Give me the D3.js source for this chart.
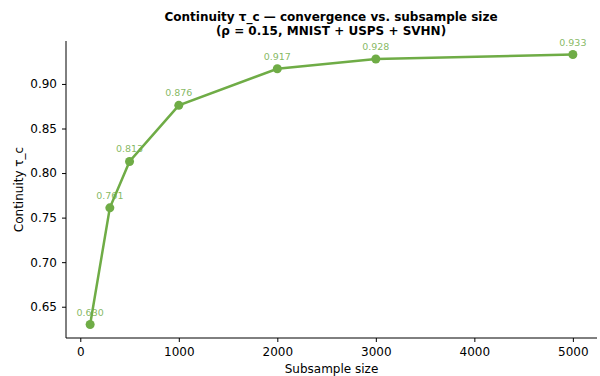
<!DOCTYPE html>
<html>
<head>
<meta charset="utf-8">
<script src="https://cdn.jsdelivr.net/npm/d3@7"></script>
<style>
  body { margin: 0; background: #fff; }
  svg text { font-family: "DejaVu Sans", sans-serif; }
</style>
</head>
<body>
<svg id="chart" width="600" height="376"></svg>
<script>
// ── Data ──────────────────────────────────
const sizes  = [100, 300, 500, 1000, 2000, 3000, 5000];
const tauC   = [0.630, 0.761, 0.813, 0.876, 0.917, 0.928, 0.933];
const xTicks = [0, 1000, 2000, 3000, 4000, 5000];
const yTicks = [0.65, 0.70, 0.75, 0.80, 0.85, 0.90];

const GREEN = '#6fac46';
const svg = d3.select('#chart');
const m = { left: 66, right: 597, top: 41, bottom: 338 };

const x = d3.scaleLinear().domain([-145, 5245]).range([m.left, m.right]);
const y = d3.scaleLinear().domain([0.6149, 0.9482]).range([m.bottom, m.top]);

// axes
const gx = svg.append('g').attr('transform', `translate(0,${m.bottom})`)
  .call(d3.axisBottom(x).tickValues(xTicks).tickFormat(d3.format('d')).tickSizeOuter(0).tickSize(4).tickPadding(5));
const gy = svg.append('g').attr('transform', `translate(${m.left},0)`)
  .call(d3.axisLeft(y).tickValues(yTicks).tickFormat(d3.format('.2f')).tickSizeOuter(0).tickSize(4).tickPadding(5));
[gx, gy].forEach(g => {
  g.select('.domain').attr('stroke', '#000').attr('stroke-width', 1);
  g.selectAll('.tick line').attr('stroke', '#000');
  g.selectAll('.tick text').attr('fill', '#000').style('font-size', '12px')
    .style('font-family', '"DejaVu Sans", sans-serif');
});
gx.select('.domain').attr('d', `M${m.left},0H${m.right}`);
gy.select('.domain').attr('d', `M0,${m.bottom}V${m.top}`);

// labels
svg.append('text').attr('x', (m.left + m.right) / 2).attr('y', 373)
  .attr('text-anchor', 'middle').style('font-size', '12px').text('Subsample size');
svg.append('text').attr('transform', `translate(23,${(m.top + m.bottom) / 2}) rotate(-90)`)
  .attr('text-anchor', 'middle').style('font-size', '12px').text('Continuity τ_c');

// title
const title = svg.append('text').attr('x', 331).attr('text-anchor', 'middle')
  .style('font-size', '12px').style('font-weight', 'bold');
title.append('tspan').attr('x', 331).attr('y', 21).text('Continuity τ_c — convergence vs. subsample size');
title.append('tspan').attr('x', 331).attr('y', 35).text('(ρ = 0.15, MNIST + USPS + SVHN)');

// value labels (drawn beneath the line)
const pts = sizes.map((s, i) => ({ s, v: tauC[i] }));
svg.append('g').selectAll('text').data(pts).join('text')
  .attr('x', d => x(d.s)).attr('y', d => y(d.v) - 9)
  .attr('text-anchor', 'middle').style('font-size', '9.5px')
  .attr('fill', GREEN).attr('fill-opacity', 0.85)
  .text(d => d3.format('.3f')(d.v));

// line + markers
svg.append('path').datum(pts)
  .attr('d', d3.line().x(d => x(d.s)).y(d => y(d.v)))
  .attr('fill', 'none').attr('stroke', GREEN).attr('stroke-width', 2.5);
svg.append('g').selectAll('circle').data(pts).join('circle')
  .attr('cx', d => x(d.s)).attr('cy', d => y(d.v)).attr('r', 4.5)
  .attr('fill', GREEN);
</script>
</body>
</html>
